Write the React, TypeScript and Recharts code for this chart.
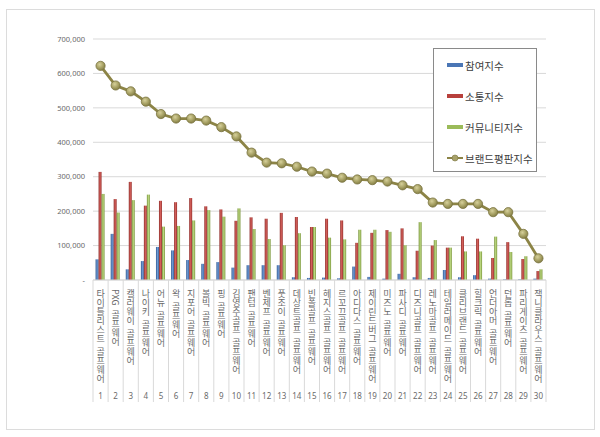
import React from "react";
import {
  ComposedChart, Bar, Line, XAxis, YAxis, CartesianGrid, Legend,
} from "recharts";

const BRANDS = [
  "타이틀리스트 골프웨어", "PXG 골프웨어", "캘러웨이 골프웨어", "나이키 골프웨어", "어뉴 골프웨어",
  "왁 골프웨어", "지포어 골프웨어", "볼빅 골프웨어", "핑 골프웨어", "김영주골프 골프웨어",
  "팬텀 골프웨어", "벤제프 골프웨어", "풋조이 골프웨어", "데상트골프 골프웨어", "빈폴골프 골프웨어",
  "헤지스골프 골프웨어", "르꼬끄골프 골프웨어", "아디다스 골프웨어", "제이린드버그 골프웨어", "미즈노 골프웨어",
  "파사디 골프웨어", "디즈니골프 골프웨어", "레노마골프 골프웨어", "테일러메이드 골프웨어", "클리브랜드 골프웨어",
  "힐크릭 골프웨어", "언더아머 골프웨어", "던롭 골프웨어", "파리게이츠 골프웨어", "잭니클라우스 골프웨어",
];

// 참여지수
const PARTICIPATION = [
  60000, 134000, 31000, 55000, 96000, 86000, 58000, 47000, 52000, 36000,
  43000, 43000, 43000, 8000, 6000, 7000, 5000, 39000, 9000, 4000,
  18000, 8000, 6000, 29000, 8000, 14000, 4000, 2000, 2000, 4000,
];
// 소통지수
const COMMUNICATION = [
  314000, 235000, 285000, 216000, 230000, 226000, 238000, 214000, 205000, 172000,
  182000, 178000, 195000, 183000, 154000, 178000, 173000, 108000, 137000, 145000,
  150000, 85000, 100000, 94000, 127000, 120000, 64000, 110000, 61000, 26000,
];
// 커뮤니티지수
const COMMUNITY = [
  250000, 196000, 232000, 248000, 155000, 157000, 173000, 203000, 184000, 208000,
  148000, 119000, 101000, 136000, 154000, 123000, 118000, 146000, 146000, 140000,
  101000, 168000, 116000, 94000, 83000, 83000, 126000, 81000, 69000, 31000,
];
// 브랜드평판지수
const REPUTATION = [
  622000, 565000, 548000, 518000, 482000, 469000, 469000, 463000, 444000, 417000,
  370000, 341000, 339000, 329000, 315000, 309000, 297000, 292000, 290000, 286000,
  275000, 264000, 225000, 221000, 221000, 221000, 197000, 197000, 134000, 63000,
];

const Y_TICKS = [0, 100000, 200000, 300000, 400000, 500000, 600000, 700000];

const data = BRANDS.map((name, i) => ({
  name,
  rank: i + 1,
  participation: PARTICIPATION[i],
  communication: COMMUNICATION[i],
  community: COMMUNITY[i],
  reputation: REPUTATION[i],
}));

const KR_FONT = "'Noto Sans CJK KR', 'Noto Sans', sans-serif";
const GRID = "#d9d9d9";
const TEXT = "#6a6a6a";

const CategoryTick = (props: any) => {
  const { x, y, payload, index } = props;
  const half = payload?.offset || 7.6;
  return (
    <g>
      <line x1={x - half} x2={x - half} y1={y} y2={y + 122} stroke={GRID} />
      {index === BRANDS.length - 1 && (
        <line x1={x + half} x2={x + half} y1={y} y2={y + 122} stroke={GRID} />
      )}
      <text
        x={x}
        y={y + 9}
        fontSize={9}
        fill={TEXT}
        fontFamily={KR_FONT}
        style={{ writingMode: "vertical-rl", wordSpacing: 2 } as any}
      >
        {payload.value}
      </text>
      <text x={x} y={y + 119} fontSize={8} fill={TEXT} textAnchor="middle" fontFamily="'Noto Sans', sans-serif">
        {index + 1}
      </text>
    </g>
  );
};

const ReputationDot = (props: any) => {
  const { cx, cy, index } = props;
  if (cx == null || cy == null) return null;
  return <circle key={index} cx={cx} cy={cy} r={4.6} fill="url(#dotGrad)" stroke="#7a7440" strokeWidth={0.8} />;
};

const LEGEND_ITEMS = [
  { label: "참여지수", color: "#4a76b5", kind: "bar" },
  { label: "소통지수", color: "#b8403c", kind: "bar" },
  { label: "커뮤니티지수", color: "#9bbb59", kind: "bar" },
  { label: "브랜드평판지수", color: "#8c8446", kind: "line" },
];

const renderLegend = () => (
  <div
    style={{
      width: 104, height: 124, boxSizing: "border-box", border: "1px solid #8a8a8a",
      background: "#fff", position: "relative", fontFamily: KR_FONT, fontSize: 10.5, color: "#404040",
    }}
  >
    {LEGEND_ITEMS.map((it, i) => (
      <div key={it.label} style={{ position: "absolute", left: 13, top: 16 + i * 31 - 8, height: 16, display: "flex", alignItems: "center" }}>
        {it.kind === "bar" ? (
          <span style={{ display: "inline-block", width: 16, height: 4, background: it.color, marginRight: 2 }} />
        ) : (
          <svg width={16} height={10} style={{ marginRight: 2 }}>
            <line x1={0} x2={16} y1={5} y2={5} stroke={it.color} strokeWidth={2} />
            <circle cx={8} cy={5} r={3} fill="#a8a26a" stroke="#7a7440" strokeWidth={0.6} />
          </svg>
        )}
        <span>{it.label}</span>
      </div>
    ))}
  </div>
);

export default function App() {
  return (
    <div style={{ position: "relative", width: 600, height: 437, background: "#fff" }}>
      <style>{"body{margin:0}"}</style>
      <div
        style={{
          position: "absolute", left: 6, top: 9, width: 589, height: 421,
          border: "1px solid #dcdcdc", boxSizing: "border-box", pointerEvents: "none",
        }}
      />
      <ComposedChart
        width={600}
        height={437}
        data={data}
        margin={{ top: 39, right: 54, left: 0, bottom: 35 }}
        barCategoryGap="17%"
        barGap={0}
      >
        <defs>
          <linearGradient id="blueGrad" x1="0" y1="0" x2="1" y2="0">
            <stop offset="0%" stopColor="#2f5890" />
            <stop offset="50%" stopColor="#6e9ad4" />
            <stop offset="100%" stopColor="#345f9a" />
          </linearGradient>
          <linearGradient id="redGrad" x1="0" y1="0" x2="1" y2="0">
            <stop offset="0%" stopColor="#8e2f2c" />
            <stop offset="50%" stopColor="#d4605b" />
            <stop offset="100%" stopColor="#962f2c" />
          </linearGradient>
          <linearGradient id="greenGrad" x1="0" y1="0" x2="1" y2="0">
            <stop offset="0%" stopColor="#759038" />
            <stop offset="50%" stopColor="#bcd881" />
            <stop offset="100%" stopColor="#7b963c" />
          </linearGradient>
          <radialGradient id="dotGrad" cx="0.4" cy="0.35" r="0.7">
            <stop offset="0%" stopColor="#d6d09a" />
            <stop offset="60%" stopColor="#a39d60" />
            <stop offset="100%" stopColor="#7f7942" />
          </radialGradient>
        </defs>
        <CartesianGrid vertical={false} stroke={GRID} />
        <XAxis
          dataKey="name"
          interval={0}
          height={122}
          tickLine={false}
          tickSize={0}
          tickMargin={0}
          axisLine={{ stroke: GRID }}
          tick={<CategoryTick />}
        />
        <YAxis
          width={93}
          domain={[0, 700000]}
          ticks={Y_TICKS}
          interval={0}
          axisLine={false}
          tickLine={false}
          tick={{ fontSize: 7.5, fill: TEXT, fontFamily: "'Noto Sans', sans-serif" }}
          tickFormatter={(v: number) => (v === 0 ? "-" : v.toLocaleString("en-US"))}
        />
        <Legend
          layout="vertical"
          align="center"
          verticalAlign="middle"
          content={renderLegend}
          wrapperStyle={{ left: 433, top: 48, width: 104, height: 124 }}
        />
        <Bar dataKey="participation" name="참여지수" fill="url(#blueGrad)" isAnimationActive={false} />
        <Bar dataKey="communication" name="소통지수" fill="url(#redGrad)" isAnimationActive={false} />
        <Bar dataKey="community" name="커뮤니티지수" fill="url(#greenGrad)" isAnimationActive={false} />
        <Line
          dataKey="reputation"
          name="브랜드평판지수"
          stroke="#8c8446"
          strokeWidth={2.8}
          dot={<ReputationDot />}
          activeDot={false}
          isAnimationActive={false}
        />
      </ComposedChart>
    </div>
  );
}
